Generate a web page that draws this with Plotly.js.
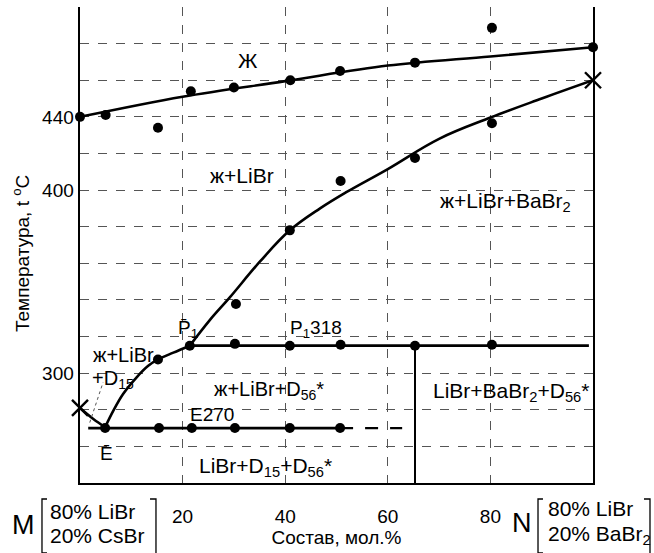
<!DOCTYPE html>
<html>
<head>
<meta charset="utf-8">
<script src="https://cdn.plot.ly/plotly-3.0.1.min.js"></script>
<style>html,body{margin:0;padding:0;background:#fff}#chart{width:654px;height:553px}</style>
</head>
<body>
<div id="chart"></div>
<script>
// ---- data ----
// liquidus of LiBr-rich melt (field "Ж")
const liquidusX = [0, 20, 40, 60, 80, 100];
const liquidusY = [440, 451, 459.5, 468, 473, 478];
const liquidusPtsX = [0, 5, 15.2, 21.6, 30, 41, 50.7, 65.3, 80.3, 100];
const liquidusPtsY = [440, 441, 434, 454, 456, 460, 465, 469.6, 488.6, 478];
// secondary crystallisation curve P1 -> e460
const crystX = [21.4, 25.3, 29.2, 35.1, 40.9, 46.8, 52, 60, 70, 80, 90, 100];
const crystY = [315, 329, 341.4, 361, 378, 390, 399, 411.5, 428, 439.6, 450, 460];
const crystPtsX = [30.4, 40.9, 50.8, 65.3, 80.3];
const crystPtsY = [337.8, 378, 405, 417.5, 436.5];
// e282 -> E branch
const leftBranchX = [0, 2.6, 4.9];
const leftBranchY = [281, 275, 270.5];
// E -> P1 branch
const rightBranchX = [4.9, 6.5, 8.4, 11, 13.3, 15.2, 18.2, 21.4];
const rightBranchY = [270.5, 279.5, 288.6, 297.6, 304, 307.5, 311.2, 315];
const branchPtsX = [15.2];
const branchPtsY = [307.5];
// peritectic horizontal P1 318
const periX = [21.4, 99.2];
const periY = [315, 315];
const periPtsX = [21.4, 30.2, 40.9, 50.8, 65.3, 80.3];
const periPtsY = [315, 316, 315, 315.5, 315, 315.5];
// eutectic horizontal E270
const eutSolidX = [1.6, 50.7];
const eutDashX = [50.7, 62.8];
const eutY = 270;
const eutPtsX = [4.9, 15.4, 21.8, 30.2, 40.9, 50.7];
// vertical D56* line
const vertX = [65.3, 65.3];
const vertY = [315, 240];
// dotted guide to D15
const guideX = [1.9, 4.5];
const guideY = [273, 295];
// eutectic points e282 and e460
const eutecticX = [0, 100];
const eutecticY = [281, 460];
// axes
const xTickVals = [20, 40, 60, 80];
const xTickText = ['20', '40', '60', '80'];
const yTickVals = [260, 280, 300, 320, 340, 360, 380, 400, 420, 440, 460, 480, 500];
const yTickText = ['', '', '300', '', '', '', '', '400', '', '440', '', '', ''];

const FONT = 'Liberation Sans, Arial, sans-serif';
const BLK = '#000';
const LW = 2.6;

function line(x, y, opts) {
  return Object.assign({type: 'scatter', mode: 'lines', x: x, y: y, showlegend: false, hoverinfo: 'skip',
    cliponaxis: false, line: {color: BLK, width: LW}}, opts || {});
}
function pts(x, y) {
  return {type: 'scatter', mode: 'markers', x: x, y: y, showlegend: false, cliponaxis: false,
    marker: {color: BLK, size: 10}};
}

const traces = [
  line(liquidusX, liquidusY, {line: {color: BLK, width: LW, shape: 'spline'}}),
  pts(liquidusPtsX, liquidusPtsY),
  line(crystX, crystY, {line: {color: BLK, width: LW, shape: 'spline', smoothing: 1.1}}),
  pts(crystPtsX, crystPtsY),
  line(leftBranchX, leftBranchY, {line: {color: BLK, width: LW, shape: 'spline'}}),
  line(rightBranchX, rightBranchY, {line: {color: BLK, width: LW, shape: 'spline'}}),
  pts(branchPtsX, branchPtsY),
  line(periX, periY, {line: {color: BLK, width: 2.8}}),
  pts(periPtsX, periPtsY),
  line(eutSolidX, [eutY, eutY], {line: {color: BLK, width: 2.8}}),
  line(eutDashX, [eutY, eutY], {line: {color: BLK, width: 2.4, dash: '13px,12px'}}),
  pts(eutPtsX, eutPtsX.map(() => eutY)),
  line(vertX, vertY, {line: {color: BLK, width: 2}}),
  line(guideX, guideY, {line: {color: '#555', width: 1, dash: 'dot'}}),
  {type: 'scatter', mode: 'markers', x: eutecticX, y: eutecticY, showlegend: false, cliponaxis: false,
   marker: {symbol: 'x-thin', size: 16, color: BLK, line: {color: BLK, width: 2.4}}}
];

function ann(text, x, y, size, extra) {
  return Object.assign({text: text, x: x, y: y, xref: 'x', yref: 'y', showarrow: false,
    xanchor: 'center', yanchor: 'middle',
    font: {family: FONT, size: size || 20, color: BLK}}, extra || {});
}
function pann(text, px, py, size, extra) {
  return Object.assign({text: text, x: (px - 80) / 513, y: (483 - py) / 476, xref: 'paper', yref: 'paper',
    showarrow: false, xanchor: 'center', yanchor: 'middle',
    font: {family: FONT, size: size || 20, color: BLK}}, extra || {});
}

const annotations = [
  ann('Ж', 32.7, 471, 21),
  ann('ж+LiBr', 31.5, 408, 21),
  ann('ж+LiBr+BaBr<sub>2</sub>', 83, 393.6, 21),
  ann('P\u0304<sub>1</sub>', 21, 324, 19),
  ann('P<sub>1</sub>318', 46, 324, 19),
  ann('ж+LiBr', 8.5, 310, 20),
  ann('+D<sub>15</sub>', 6.4, 296.5, 20),
  ann('ж+LiBr+D<sub>56</sub>*', 36.8, 290.6, 20),
  ann('E270', 25.8, 277.5, 19),
  ann('E\u0304', 5.1, 256, 19),
  ann('LiBr+D<sub>15</sub>+D<sub>56</sub>*', 36.2, 249, 21),
  ann('LiBr+BaBr<sub>2</sub>+D<sub>56</sub>*', 84, 289.5, 21),
  ann('e282', -1, 283, 19, {xanchor: 'right'}),
  ann('e460', 101.6, 459.5, 19, {xanchor: 'left'}),
  ann('478', 101.6, 480.5, 19, {xanchor: 'left'}),
  pann('Температура, t <sup>o</sup>C', 21, 254, 19, {textangle: -90}),
  pann('M', 23, 525, 27),
  pann('80% LiBr', 48, 511, 21, {xanchor: 'left'}),
  pann('20% CsBr', 48, 535, 21, {xanchor: 'left'}),
  pann('N', 522, 523, 27),
  pann('80% LiBr', 546, 508, 21, {xanchor: 'left'}),
  pann('20% BaBr<sub>2</sub>', 546, 535, 21, {xanchor: 'left'})
];

function px2path(points) {
  return points.map((p, i) => (i ? 'L' : 'M') + ((p[0] - 80) / 513).toFixed(4) + ',' + ((483 - p[1]) / 476).toFixed(4)).join(' ');
}
const bracketStyle = {type: 'path', xref: 'paper', yref: 'paper', line: {color: BLK, width: 1.3}};
const shapes = [
  Object.assign({path: px2path([[47, 499], [42, 499], [42, 553], [47, 553]])}, bracketStyle),
  Object.assign({path: px2path([[150, 499], [156, 499], [156, 553]])}, bracketStyle),
  Object.assign({path: px2path([[543, 499], [538, 499], [538, 553], [543, 553]])}, bracketStyle),
  Object.assign({path: px2path([[644, 499], [650, 499], [650, 553]])}, bracketStyle)
];

const layout = {
  width: 654, height: 553,
  margin: {l: 80, r: 61, t: 7, b: 70},
  paper_bgcolor: '#fff', plot_bgcolor: '#fff',
  font: {family: FONT, color: BLK},
  showlegend: false,
  xaxis: {
    range: [0, 100], tickvals: xTickVals, ticktext: xTickText, ticks: '',
    tickfont: {family: FONT, size: 19, color: BLK}, ticklabelstandoff: 15,
    showgrid: true, gridcolor: '#555', gridwidth: 1, griddash: 'dash',
    showline: true, linecolor: BLK, linewidth: 1.8, mirror: false, zeroline: false,
    title: {text: 'Состав, мол.%', font: {family: FONT, size: 19, color: BLK}, standoff: 4}
  },
  yaxis: {
    range: [240, 500], tickvals: yTickVals, ticktext: yTickText, ticks: '',
    tickfont: {family: FONT, size: 19, color: BLK},
    showgrid: true, gridcolor: '#555', gridwidth: 1, griddash: 'dash',
    showline: true, linecolor: BLK, linewidth: 2.4, mirror: true, zeroline: false
  },
  annotations: annotations,
  shapes: shapes
};

Plotly.newPlot('chart', traces, layout, {staticPlot: true, displayModeBar: false});
</script>
</body>
</html>
